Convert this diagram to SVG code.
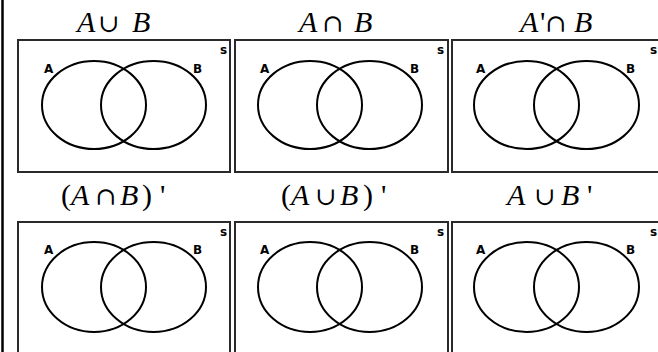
<svg xmlns="http://www.w3.org/2000/svg" width="658" height="352" viewBox="0 0 658 352">
<style>
.box{fill:#fff;stroke:#2a2a2a;stroke-width:2}
.ell{fill:none;stroke:#000;stroke-width:2}
.lbl{font-family:"DejaVu Sans","Liberation Sans",sans-serif;font-weight:bold;font-size:12px;fill:#000}
.ttl{font-family:"Liberation Serif","Times New Roman",serif;font-size:30px;fill:#000}
.it{font-style:italic}
.op{font-family:"DejaVu Serif","Liberation Serif",serif;font-size:25px}
</style>
<rect width="658" height="352" fill="#fff"/>
<line x1="2.5" y1="0" x2="2.5" y2="352" stroke="#000" stroke-width="2.5"/>

<g id="p1">
<text class="ttl"><tspan class="it" x="77" y="32">A</tspan><tspan class="op" x="98" y="32">∪</tspan><tspan class="it" x="132" y="32">B</tspan></text>
<rect class="box" x="18" y="40" width="212" height="132"/>
<ellipse class="ell" cx="94" cy="105" rx="52" ry="44"/>
<ellipse class="ell" cx="153.5" cy="105" rx="52.5" ry="44"/>
<text class="lbl" x="44" y="73">A</text><text class="lbl" x="193" y="73">B</text><text class="lbl" x="220" y="54">s</text>
</g>

<g id="p2">
<text class="ttl"><tspan class="it" x="299" y="32">A</tspan><tspan class="op" x="322" y="32">∩</tspan><tspan class="it" x="354" y="32">B</tspan></text>
<rect class="box" x="235" y="40" width="213" height="132"/>
<ellipse class="ell" cx="310" cy="105" rx="52" ry="44"/>
<ellipse class="ell" cx="369.5" cy="105" rx="52.5" ry="44"/>
<text class="lbl" x="260" y="73">A</text><text class="lbl" x="410" y="73">B</text><text class="lbl" x="437" y="54">s</text>
</g>

<g id="p3">
<text class="ttl"><tspan class="it" x="520" y="32">A</tspan><tspan x="540" y="32">'</tspan><tspan class="op" x="545" y="32">∩</tspan><tspan class="it" x="574" y="32">B</tspan></text>
<rect class="box" x="452" y="40" width="220" height="132"/>
<ellipse class="ell" cx="526.5" cy="105" rx="52.5" ry="44"/>
<ellipse class="ell" cx="586.5" cy="105" rx="52.5" ry="44"/>
<text class="lbl" x="476" y="73">A</text><text class="lbl" x="626" y="73">B</text><text class="lbl" x="650" y="54">s</text>
</g>

<g id="p4">
<text class="ttl"><tspan x="61" y="205">(</tspan><tspan class="it" x="71" y="205">A</tspan><tspan class="op" x="95" y="205">∩</tspan><tspan class="it" x="120" y="205">B</tspan><tspan x="142" y="205">)</tspan><tspan x="160" y="205">'</tspan></text>
<rect class="box" x="18" y="222" width="212" height="140"/>
<ellipse class="ell" cx="94" cy="287" rx="52" ry="45"/>
<ellipse class="ell" cx="153.5" cy="287" rx="52.5" ry="45"/>
<text class="lbl" x="44" y="254">A</text><text class="lbl" x="193" y="254">B</text><text class="lbl" x="220" y="236">s</text>
</g>

<g id="p5">
<text class="ttl"><tspan x="281" y="205">(</tspan><tspan class="it" x="291" y="205">A</tspan><tspan class="op" x="315" y="205">∪</tspan><tspan class="it" x="340" y="205">B</tspan><tspan x="363" y="205">)</tspan><tspan x="381" y="205">'</tspan></text>
<rect class="box" x="235" y="222" width="213" height="140"/>
<ellipse class="ell" cx="310" cy="287" rx="52" ry="45"/>
<ellipse class="ell" cx="369.5" cy="287" rx="52.5" ry="45"/>
<text class="lbl" x="260" y="254">A</text><text class="lbl" x="410" y="254">B</text><text class="lbl" x="437" y="236">s</text>
</g>

<g id="p6">
<text class="ttl"><tspan class="it" x="507" y="205">A</tspan><tspan class="op" x="534" y="205">∪</tspan><tspan class="it" x="561" y="205">B</tspan><tspan x="587" y="205">'</tspan></text>
<rect class="box" x="452" y="222" width="220" height="140"/>
<ellipse class="ell" cx="526.5" cy="287" rx="52.5" ry="45"/>
<ellipse class="ell" cx="586.5" cy="287" rx="52.5" ry="45"/>
<text class="lbl" x="476" y="254">A</text><text class="lbl" x="626" y="254">B</text><text class="lbl" x="650" y="236">s</text>
</g>
</svg>
